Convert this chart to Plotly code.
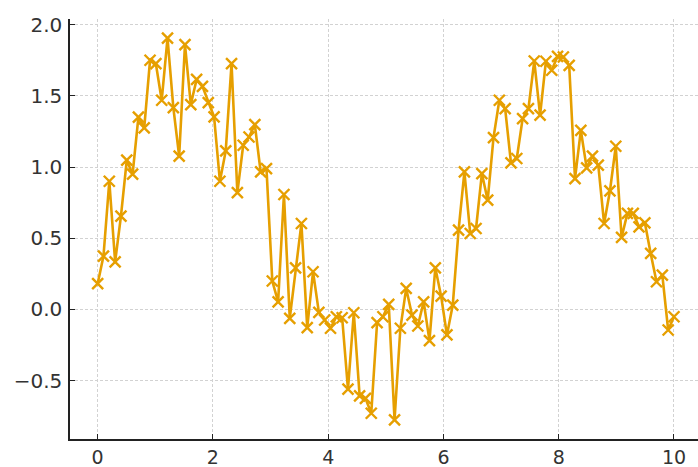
import numpy as np
import plotly.graph_objects as go

x_values = np.linspace(0, 10, 100)
y_values = [
    0.18, 0.374, 0.90, 0.334, 0.655, 1.048, 0.95, 1.35, 1.275, 1.75,
    1.726, 1.469, 1.906, 1.418, 1.076, 1.86, 1.439, 1.616, 1.567, 1.453,
    1.352, 0.90, 1.113, 1.726, 0.82, 1.153, 1.211, 1.298, 0.966, 0.989,
    0.199, 0.053, 0.807, -0.063, 0.292, 0.603, -0.129, 0.264, -0.021, -0.075,
    -0.133, -0.052, -0.059, -0.561, -0.024, -0.608, -0.625, -0.73, -0.094, -0.052,
    0.035, -0.777, -0.133, 0.147, -0.04, -0.117, 0.053, -0.22, 0.292, 0.093,
    -0.18, 0.03, 0.556, 0.966, 0.533, 0.568, 0.954, 0.767, 1.207, 1.469,
    1.41, 1.029, 1.06, 1.34, 1.41, 1.745, 1.364, 1.743, 1.68, 1.777,
    1.773, 1.714, 0.919, 1.258, 0.994, 1.076, 1.013, 0.603, 0.832, 1.146,
    0.505, 0.674, 0.674, 0.58, 0.608, 0.393, 0.194, 0.241, -0.145, -0.052,
]
x_ticks = [0, 2, 4, 6, 8, 10]
y_ticks = [-0.5, 0.0, 0.5, 1.0, 1.5, 2.0]
y_tick_labels = ["\u22120.5", "0.0", "0.5", "1.0", "1.5", "2.0"]

color = "#E69F00"

fig = go.Figure()
fig.add_trace(go.Scatter(
    x=x_values, y=y_values, mode="lines+markers",
    line=dict(color=color, width=2.6),
    marker=dict(symbol="x-thin", size=11, line=dict(color=color, width=2.4)),
    showlegend=False,
))

axis_common = dict(
    showline=True, linecolor="#222222", linewidth=1.5,
    ticks="inside", ticklen=5, tickwidth=1.2, tickcolor="#222222",
    showgrid=True, gridcolor="#d2d2d2", gridwidth=1, griddash="3px,2px",
    zeroline=False, mirror=False, automargin=False,
)

fig.update_xaxes(range=[-0.48, 10.417], tickvals=x_ticks,
                 ticktext=[str(t) for t in x_ticks], ticklabelstandoff=0,
                 tickfont=dict(family="DejaVu Sans", size=19, color="#333333"),
                 **axis_common)
fig.update_yaxes(range=[-0.911, 2.04], tickvals=y_ticks,
                 ticktext=y_tick_labels, ticklabelstandoff=2,
                 tickfont=dict(family="DejaVu Sans", size=20, color="#333333"),
                 **axis_common)

fig.update_layout(
    width=698, height=467,
    margin=dict(l=70, r=0, t=19, b=28),
    paper_bgcolor="white", plot_bgcolor="white",
)

fig.write_html(
    "out.html",
    config={"displayModeBar": False},
    post_script="document.body.style.margin='0';document.body.style.overflow='hidden';",
)
